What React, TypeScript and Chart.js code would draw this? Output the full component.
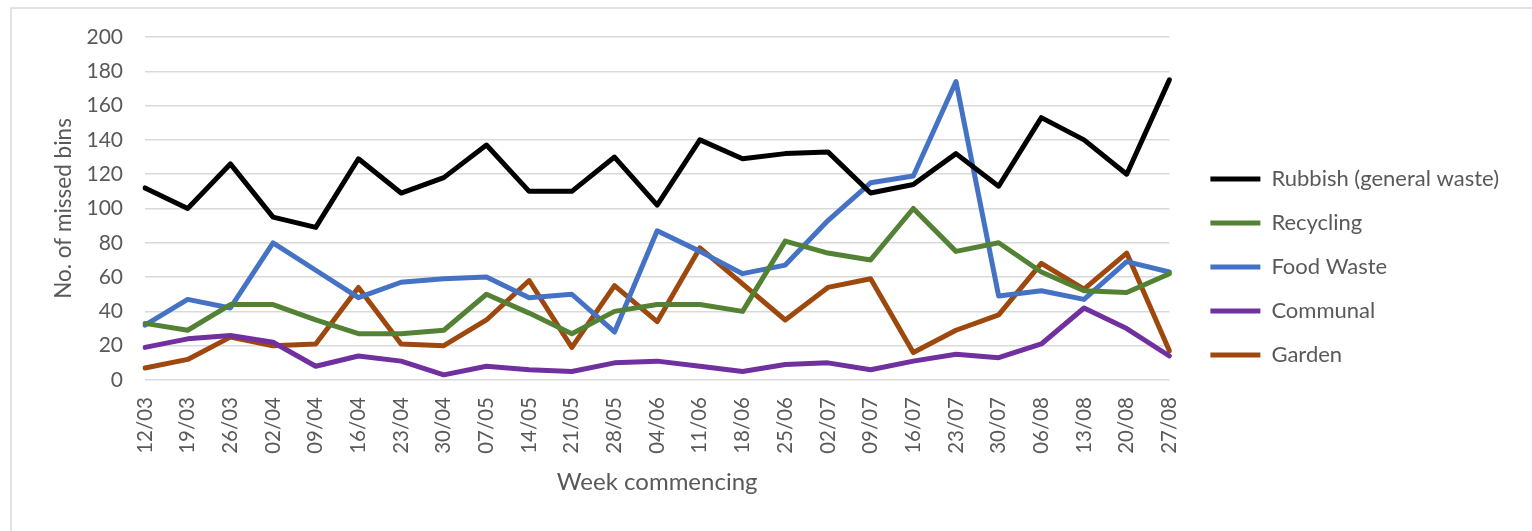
import React, { useEffect, useRef } from "react";
import { Chart, registerables } from "chart.js";

Chart.register(...registerables);

const weeks = ["12/03","19/03","26/03","02/04","09/04","16/04","23/04","30/04","07/05","14/05","21/05","28/05","04/06","11/06","18/06","25/06","02/07","09/07","16/07","23/07","30/07","06/08","13/08","20/08","27/08"];
const rubbish = [112,100,126,95,89,129,109,118,137,110,110,130,102,140,129,132,133,109,114,132,113,153,140,120,175];
const recycling = [33,29,44,44,35,27,27,29,50,39,27,40,44,44,40,81,74,70,100,75,80,63,52,51,62];
const foodWaste = [32,47,42,80,64,48,57,59,60,48,50,28,87,75,62,67,93,115,119,174,49,52,47,69,63];
const communal = [19,24,26,22,8,14,11,3,8,6,5,10,11,8,5,9,10,6,11,15,13,21,42,30,14];
const garden = [7,12,25,20,21,54,21,20,35,58,19,55,34,77,56,35,54,59,16,29,38,68,53,74,17];

const seriesNames = ["Rubbish (general waste)", "Recycling", "Food Waste", "Communal", "Garden"];
const seriesColors = ["#000000", "#548235", "#4472C4", "#7030A0", "#9E480E"];

export default function App() {
  const ref = useRef<HTMLCanvasElement>(null);
  useEffect(() => {
    if (!ref.current) return;
    const FONT = "Lato";
    const TXT = "#595959";
    const values = [rubbish, recycling, foodWaste, communal, garden];
    const framePlugin = {
      id: "frame",
      beforeDraw(chart: any) {
        const ctx = chart.ctx;
        ctx.save();
        ctx.fillStyle = "#ffffff";
        ctx.fillRect(0, 0, chart.width, chart.height);
        ctx.strokeStyle = "#d9d9d9";
        ctx.lineWidth = 1.5;
        ctx.beginPath();
        ctx.moveTo(11, chart.height);
        ctx.lineTo(11, 8);
        ctx.lineTo(chart.width, 8);
        ctx.stroke();
        ctx.restore();
      },
    };
    const chart = new Chart(ref.current, {
      type: "line",
      data: {
        labels: weeks,
        datasets: values.map((v, i) => ({
          label: seriesNames[i],
          data: v,
          borderColor: seriesColors[i],
          backgroundColor: seriesColors[i],
          borderWidth: 5,
          borderCapStyle: "round",
          borderJoinStyle: "round",
          pointRadius: 0,
          pointHoverRadius: 0,
          tension: 0,
          fill: false,
          yAxisID: "y",
        })),
      },
      options: {
        animation: false,
        responsive: true,
        maintainAspectRatio: false,
        events: [],
        layout: { padding: { left: 50, top: 37, right: 23, bottom: 34 } },
        plugins: {
          tooltip: { enabled: false },
          legend: {
            position: "right",
            align: "center",
            maxWidth: 420,
            labels: {
              usePointStyle: true,
              pointStyle: "line",
              pointStyleWidth: 50,
              padding: 22,
              color: TXT,
              font: { family: FONT, size: 22 },
            },
          },
        },
        scales: {
          x: {
            offset: false,
            grid: { display: false, drawTicks: false },
            border: { display: false },
            ticks: {
              autoSkip: false,
              maxRotation: 90,
              minRotation: 90,
              padding: 17,
              color: TXT,
              font: { family: FONT, size: 20.5 },
            },
            title: {
              display: true,
              text: "Week commencing",
              color: TXT,
              padding: 0,
              font: { family: FONT, size: 24 },
            },
            afterFit: (s: any) => { s.height = 117; },
          },
          y: {
            min: 0,
            max: 200,
            ticks: {
              stepSize: 20,
              padding: 22,
              color: TXT,
              font: { family: FONT, size: 21 },
            },
            grid: { color: "#d9d9d9", lineWidth: 1.5, drawTicks: false },
            border: { display: false },
            title: {
              display: true,
              text: "No. of missed bins",
              color: TXT,
              padding: 0,
              font: { family: FONT, size: 22.5 },
            },
            afterFit: (s: any) => { s.width = 95; },
          },
          gap: {
            type: "linear",
            position: "right",
            grid: { display: false, drawTicks: false },
            border: { display: false },
            ticks: { display: false },
            afterFit: (s: any) => { s.width = 19; },
          },
        },
      },
      plugins: [framePlugin],
    });
    return () => chart.destroy();
  }, []);
  return (
    <div style={{ position: "fixed", left: 0, top: 0, width: 1532, height: 531, background: "#fff" }}>
      <canvas ref={ref} />
    </div>
  );
}
